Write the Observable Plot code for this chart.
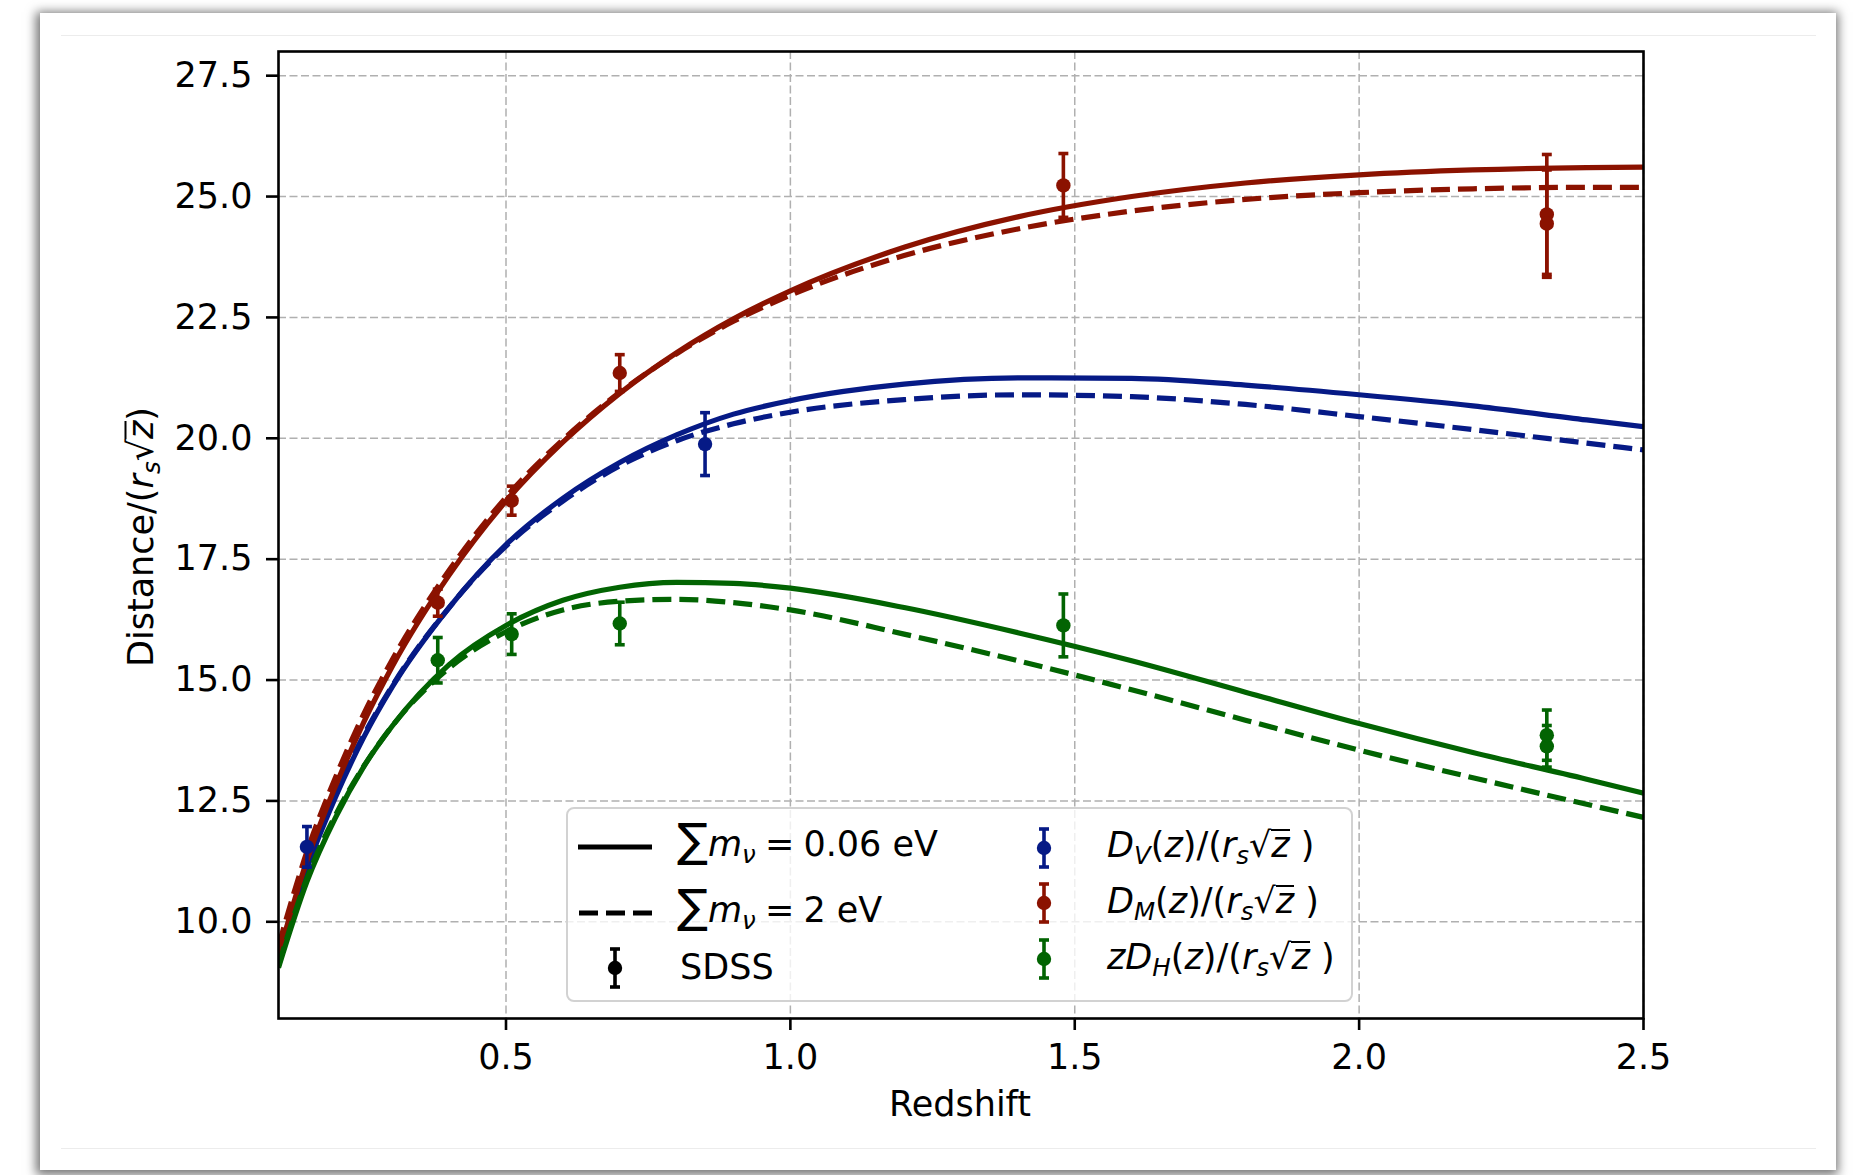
<!DOCTYPE html>
<html>
<head>
<meta charset="utf-8">
<script src="https://cdn.jsdelivr.net/npm/d3@7"></script>
<script src="https://cdn.jsdelivr.net/npm/@observablehq/plot@0.6"></script>
<style>
  html, body { margin: 0; padding: 0; background: #fff; }
  body { width: 1854px; height: 1175px; position: relative; overflow: hidden; font-family: "DejaVu Sans", sans-serif; color: #000; }
  #card { position: absolute; left: 40px; top: 13px; width: 1796px; height: 1157px; background: #fff; box-shadow: -1px 2px 10px 3px rgba(0,0,0,0.55); }
  #fig { position: absolute; left: 61px; top: 35px; width: 1755px; height: 1114px; border-top: 1.5px solid #ececec; border-bottom: 1.5px solid #ececec; box-sizing: border-box; }
  #chart { position: absolute; left: 0; top: 0; }
  .t { position: absolute; font-size: 35px; line-height: 35px; white-space: nowrap; }
  .sb { font-size: 0.7em; vertical-align: -0.3em; line-height: 0; font-style: italic; }
  .ov { display: inline-block; line-height: 0.8em; border-top: 2.5px solid #000; }
  .sum { font-size: 46px; line-height: 0; }
  .eq { margin: 0 -2px; }
  #lgframe { position: absolute; left: 566px; top: 807px; width: 787px; height: 195px; box-sizing: border-box; border: 2px solid #d2d2d2; border-radius: 8px; background: rgba(255,255,255,0.8); }
  #lgsvg { position: absolute; left: 0; top: 0; }
</style>
</head>
<body>
<div id="card"></div>
<div id="fig"></div>
<div id="chart"></div>
<script>
// ---- data ----
const xTicks = [0.5, 1.0, 1.5, 2.0, 2.5];
const yTicks = [10.0, 12.5, 15.0, 17.5, 20.0, 22.5, 25.0, 27.5];

const zGrid  = [0.1, 0.15, 0.2, 0.25, 0.3, 0.4, 0.5, 0.6, 0.7, 0.8, 0.9, 1.0, 1.2, 1.4, 1.6, 1.8, 2.0, 2.2, 2.4, 2.5];
// D_V/(r_s sqrt z)
const dvLow  = [9.22, 11.1, 12.57, 13.82, 14.86, 16.5, 17.8, 18.76, 19.5, 20.07, 20.5, 20.78, 21.12, 21.25, 21.24, 21.1, 20.9, 20.67, 20.38, 20.24];
const dvHigh = [9.3, 11.15, 12.63, 13.86, 14.88, 16.5, 17.77, 18.7, 19.43, 19.95, 20.3, 20.54, 20.8, 20.9, 20.86, 20.7, 20.45, 20.18, 19.9, 19.76];
// D_M/(r_s sqrt z)
const dmLow  = [9.3, 11.27, 12.8, 14.13, 15.28, 17.17, 18.7, 19.92, 20.93, 21.77, 22.47, 23.05, 23.95, 24.58, 25.0, 25.28, 25.45, 25.55, 25.6, 25.61];
const dmHigh = [9.5, 11.45, 12.98, 14.3, 15.42, 17.27, 18.78, 19.97, 20.95, 21.75, 22.42, 22.96, 23.78, 24.33, 24.7, 24.94, 25.08, 25.16, 25.19, 25.19];
// z D_H/(r_s sqrt z)
const dhLow  = [9.05, 10.83, 12.15, 13.21, 14.05, 15.32, 16.13, 16.65, 16.92, 17.02, 17.0, 16.9, 16.5, 15.98, 15.4, 14.75, 14.1, 13.5, 12.95, 12.66];
const dhHigh = [9.1, 10.9, 12.2, 13.22, 14.05, 15.25, 16.0, 16.45, 16.63, 16.67, 16.6, 16.45, 15.95, 15.4, 14.8, 14.17, 13.55, 12.98, 12.43, 12.16];

// SDSS measurements
const dvZ = [0.15, 0.85];
const dvV = [11.55, 19.88];
const dvE = [0.42, 0.65];
const dmZ = [0.38, 0.51, 0.70, 1.48, 2.33, 2.33];
const dmV = [16.6, 18.71, 21.35, 25.23, 24.63, 24.44];
const dmE = [0.28, 0.30, 0.38, 0.66, 1.24, 1.11];
const dhZ = [0.38, 0.51, 0.70, 1.48, 2.33, 2.33];
const dhV = [15.41, 15.95, 16.17, 16.13, 13.63, 13.86];
const dhE = [0.47, 0.42, 0.44, 0.65, 0.43, 0.52];

const BLUE = "#061a86", RED = "#8b1200", GREEN = "#026402";

// ---- build tables ----
const curve = vals => zGrid.map((z, i) => ({z, v: vals[i]}));
const pts = (Z, V, E) => Z.map((z, i) => ({z, v: V[i], lo: V[i] - E[i], hi: V[i] + E[i]}));

const capSymbol = { draw(ctx, size) { const w = Math.sqrt(size) / 2; ctx.moveTo(-w, 0); ctx.lineTo(w, 0); } };

const LW = 5.2, DASH = "19,8";
function lineMarks(vals, color, dashed) {
  return Plot.line(curve(vals), {x: "z", y: "v", stroke: color, strokeWidth: LW, curve: "monotone-x", clip: true,
    strokeDasharray: dashed ? DASH : null, strokeLinecap: "butt"});
}
function errMarks(data, color) {
  return [
    Plot.ruleX(data, {x: "z", y1: "lo", y2: "hi", stroke: color, strokeWidth: 3.6}),
    Plot.dot(data, {x: "z", y: "lo", symbol: capSymbol, r: 5.6, stroke: color, fill: "none", strokeWidth: 3.6}),
    Plot.dot(data, {x: "z", y: "hi", symbol: capSymbol, r: 5.6, stroke: color, fill: "none", strokeWidth: 3.6}),
    Plot.dot(data, {x: "z", y: "v", r: 7.2, fill: color, stroke: "none"})
  ];
}

const W = 1854, H = 1175;
const plot = Plot.plot({
  width: W, height: H,
  marginLeft: 278, marginRight: W - 1643, marginTop: 51, marginBottom: H - 1018,
  style: {background: "transparent", fontFamily: "DejaVu Sans", fontSize: "35px", color: "#000"},
  x: {domain: [0.1, 2.5]},
  y: {domain: [8.0, 28.0]},
  marks: [
    Plot.gridX({ticks: xTicks, stroke: "#b0b0b0", strokeOpacity: 1, strokeWidth: 1.5, strokeDasharray: "8,3.5"}),
    Plot.gridY({ticks: yTicks, stroke: "#b0b0b0", strokeOpacity: 1, strokeWidth: 1.5, strokeDasharray: "8,3.5"}),
    lineMarks(dvLow, BLUE, false),
    lineMarks(dvHigh, BLUE, true),
    lineMarks(dmLow, RED, false),
    lineMarks(dmHigh, RED, true),
    lineMarks(dhLow, GREEN, false),
    lineMarks(dhHigh, GREEN, true),
    ...errMarks(pts(dvZ, dvV, dvE), BLUE),
    ...errMarks(pts(dmZ, dmV, dmE), RED),
    ...errMarks(pts(dhZ, dhV, dhE), GREEN),
    Plot.frame({stroke: "#000", strokeWidth: 2.6}),
    Plot.axisX({ticks: xTicks, tickSize: 12, tickPadding: 14, strokeWidth: 2.6, fontSize: 35, label: null,
      tickFormat: d => d.toFixed(1)}),
    Plot.axisY({ticks: yTicks, tickSize: 12, tickPadding: 14, strokeWidth: 2.6, fontSize: 35, label: null,
      tickFormat: d => d.toFixed(1)})
  ]
});
document.getElementById("chart").appendChild(plot);
</script>

<!-- axis labels -->
<div class="t" style="left:960px; top:1087px; transform: translateX(-50%);">Redshift</div>
<div class="t" style="left:141px; top:537px; transform: translate(-50%,-50%) rotate(-90deg);">Distance/(<i>r</i><span class="sb">s</span>√<span class="ov"><i>z</i></span>)</div>

<!-- legend -->
<div id="lgframe"></div>
<svg id="lgsvg" width="1854" height="1175">
  <line x1="578" x2="652" y1="847" y2="847" stroke="#000" stroke-width="5.2"/>
  <line x1="579" x2="652" y1="913" y2="913" stroke="#000" stroke-width="5.2" stroke-dasharray="19,8"/>
  <g stroke="#000" stroke-width="3.6"><line x1="615" x2="615" y1="949" y2="987"/><line x1="610" x2="620" y1="949" y2="949"/><line x1="610" x2="620" y1="987" y2="987"/></g>
  <circle cx="615" cy="968" r="7.2" fill="#000"/>
  <g stroke="#061a86" stroke-width="3.6"><line x1="1044" x2="1044" y1="829" y2="867"/><line x1="1039" x2="1049" y1="829" y2="829"/><line x1="1039" x2="1049" y1="867" y2="867"/></g>
  <circle cx="1044" cy="848" r="7.2" fill="#061a86"/>
  <g stroke="#8b1200" stroke-width="3.6"><line x1="1044" x2="1044" y1="884" y2="922"/><line x1="1039" x2="1049" y1="884" y2="884"/><line x1="1039" x2="1049" y1="922" y2="922"/></g>
  <circle cx="1044" cy="903" r="7.2" fill="#8b1200"/>
  <g stroke="#026402" stroke-width="3.6"><line x1="1044" x2="1044" y1="940" y2="978"/><line x1="1039" x2="1049" y1="940" y2="940"/><line x1="1039" x2="1049" y1="978" y2="978"/></g>
  <circle cx="1044" cy="959" r="7.2" fill="#026402"/>
</svg>
<div class="t" style="left:677px; top:827px;"><span class="sum">∑</span><i>m</i><span class="sb">ν</span><span class="eq"> = </span>0.06 eV</div>
<div class="t" style="left:677px; top:893px;"><span class="sum">∑</span><i>m</i><span class="sb">ν</span><span class="eq"> = </span>2 eV</div>
<div class="t" style="left:680px; top:950px;">SDSS</div>
<div class="t" style="left:1107px; top:828px;"><i>D</i><span class="sb">V</span>(<i>z</i>)/(<i>r</i><span class="sb">s</span>√<span class="ov"><i>z</i></span> )</div>
<div class="t" style="left:1107px; top:884px;"><i>D</i><span class="sb">M</span>(<i>z</i>)/(<i>r</i><span class="sb">s</span>√<span class="ov"><i>z</i></span> )</div>
<div class="t" style="left:1107px; top:940px;"><i>zD</i><span class="sb">H</span>(<i>z</i>)/(<i>r</i><span class="sb">s</span>√<span class="ov"><i>z</i></span> )</div>
</body>
</html>
